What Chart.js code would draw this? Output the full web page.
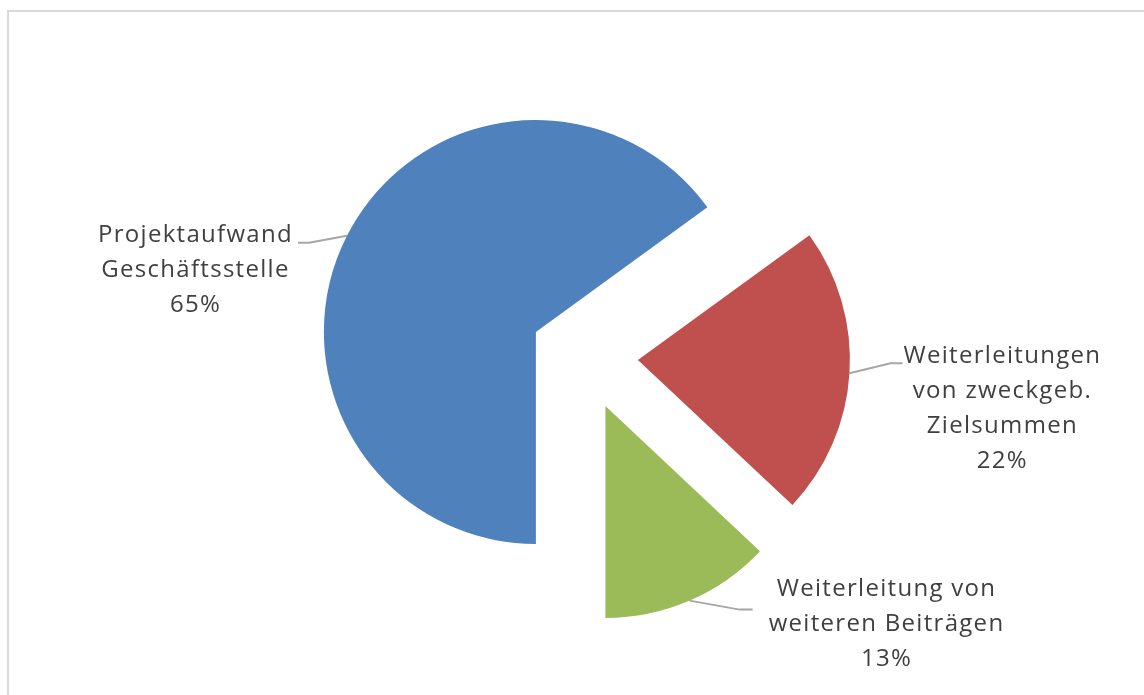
<!DOCTYPE html>
<html lang="de">
<head>
  <meta charset="UTF-8">
  <title>Kostenverteilung</title>
  <script src="https://cdn.jsdelivr.net/npm/chart.js"></script>
  <style>
    body { margin: 0; background: #fff; }
    #wrap { width: 1144px; height: 695px; position: relative; }
  </style>
</head>
<body>
  <div id="wrap"><canvas id="pieChart"></canvas></div>

  <script>
    // data
    const categories = [
      ['Projektaufwand', 'Geschäftsstelle'],
      ['Weiterleitungen', 'von zweckgeb.', 'Zielsummen'],
      ['Weiterleitung von', 'weiteren Beiträgen']
    ];
    const shares = [65, 22, 13];
    const sliceColors = ['#4F81BD', '#C0504D', '#9BBB59'];

    const explodeBy = 54;   // px each slice is pulled out
    const textColor = '#404040';
    const lineColor = '#a6a6a6';
    const labelFont = '24px "Open Sans"';
    const lineHeight = 35;

    // leader line elbows / text placement for each slice label
    const labelPlace = [
      { elbowDx: -38, elbowDy: 7,   tail: 11, gap: 5,  baseDy: -1 },
      { elbowDx: 41,  elbowDy: -10, tail: 12, gap: 1,  baseDy: 0 },
      { elbowDx: 50,  elbowDy: 9,   tail: 13, gap: 16, baseDy: -14 }
    ];

    const total = shares.reduce((a, b) => a + b, 0);

    // light frame around the chart
    const framePlugin = {
      id: 'frame',
      beforeDraw(chart) {
        const ctx = chart.ctx;
        ctx.save();
        ctx.strokeStyle = '#d9d9d9';
        ctx.lineWidth = 2;
        ctx.strokeRect(8, 11, chart.width + 20, chart.height + 20);
        ctx.restore();
      }
    };

    // draw every slice pushed out along its middle angle
    const explodePlugin = {
      id: 'explode',
      beforeDatasetDraw(chart, args) {
        const ctx = chart.ctx;
        args.meta.data.forEach(arc => {
          const mid = (arc.startAngle + arc.endAngle) / 2;
          ctx.save();
          ctx.translate(Math.cos(mid) * explodeBy, Math.sin(mid) * explodeBy);
          arc.draw(ctx, chart.chartArea);
          ctx.restore();
        });
        return false;
      }
    };

    // outside labels with leader lines
    const labelPlugin = {
      id: 'outLabels',
      afterDatasetsDraw(chart) {
        const ctx = chart.ctx;
        const arcs = chart.getDatasetMeta(0).data;
        ctx.save();
        ctx.font = labelFont;
        ctx.letterSpacing = '1.3px';
        arcs.forEach((arc, i) => {
          const p = labelPlace[i];
          const mid = (arc.startAngle + arc.endAngle) / 2;
          const cx = arc.x + Math.cos(mid) * explodeBy;
          const cy = arc.y + Math.sin(mid) * explodeBy;
          const px = cx + Math.cos(mid) * arc.outerRadius;
          const py = cy + Math.sin(mid) * arc.outerRadius;
          const dir = p.elbowDx < 0 ? -1 : 1;
          const ex = px + p.elbowDx, ey = py + p.elbowDy;
          const hx = ex + dir * p.tail;

          ctx.strokeStyle = lineColor;
          ctx.lineWidth = 2;
          ctx.beginPath();
          ctx.moveTo(px, py);
          ctx.lineTo(ex, ey);
          ctx.lineTo(hx, ey);
          ctx.stroke();

          const lines = categories[i].concat([Math.round(shares[i] / total * 100) + '%']);
          const maxW = Math.max(...lines.map(l => ctx.measureText(l).width));
          const left = dir < 0 ? hx - p.gap - maxW : hx + p.gap;
          ctx.fillStyle = textColor;
          ctx.textAlign = 'center';
          ctx.textBaseline = 'alphabetic';
          lines.forEach((l, k) => {
            ctx.fillText(l, left + maxW / 2, ey + p.baseDy + k * lineHeight);
          });
        });
        ctx.restore();
      }
    };

    const ctx = document.getElementById('pieChart').getContext('2d');
    const chart = new Chart(ctx, {
      type: 'pie',
      data: {
        labels: categories.map(c => c.join(' ')),
        datasets: [{
          data: shares,
          backgroundColor: sliceColors,
          borderWidth: 0,
          radius: 212
        }]
      },
      options: {
        responsive: true,
        maintainAspectRatio: false,
        animation: false,
        rotation: 180,
        layout: { padding: { left: 370, right: 346, top: 142, bottom: 124 } },
        plugins: {
          legend: { display: false },
          tooltip: { enabled: false }
        }
      },
      plugins: [framePlugin, explodePlugin, labelPlugin]
    });
  </script>
</body>
</html>
